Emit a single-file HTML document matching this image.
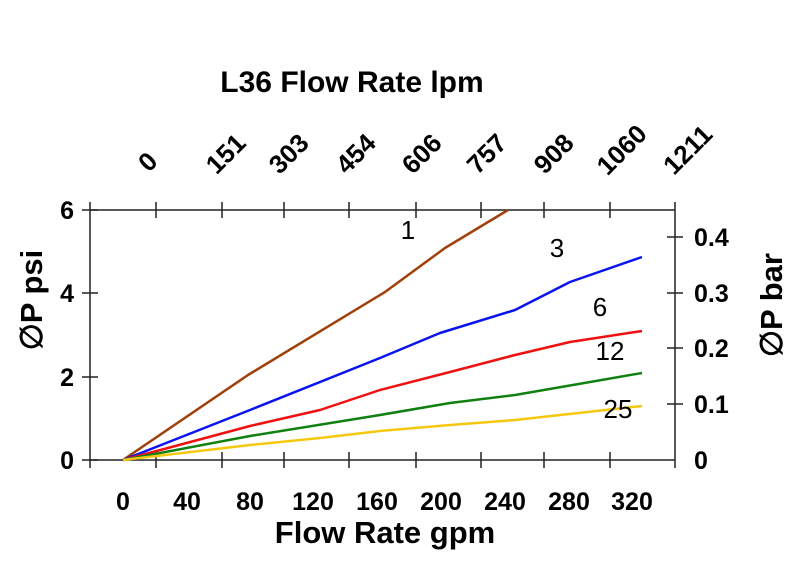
<!DOCTYPE html>
<html><head><meta charset="utf-8"><style>html,body{margin:0;padding:0;background:#fff}svg{display:block}</style></head>
<body>
<svg width="798" height="564" viewBox="0 0 798 564" xmlns="http://www.w3.org/2000/svg" font-family="Liberation Sans, sans-serif">
<rect width="798" height="564" fill="#fff"/>
<text x="352" y="92" font-size="30" font-weight="bold" text-anchor="middle">L36 Flow Rate lpm</text>
<g font-size="26" font-weight="bold" text-anchor="middle">
<text transform="translate(154,168) rotate(-45)">0</text>
<text transform="translate(232,160) rotate(-45)">151</text>
<text transform="translate(295,160) rotate(-45)">303</text>
<text transform="translate(362,160) rotate(-45)">454</text>
<text transform="translate(428,160) rotate(-45)">606</text>
<text transform="translate(493,160) rotate(-45)">757</text>
<text transform="translate(560,160) rotate(-45)">908</text>
<text transform="translate(628,156) rotate(-45)">1060</text>
<text transform="translate(694,156) rotate(-45)">1211</text>
</g>
<g stroke="#222" stroke-width="1.5" fill="none">
<line x1="90" y1="210" x2="675" y2="210"/>
<line x1="90" y1="460" x2="675" y2="460"/>
<line x1="90" y1="202" x2="90" y2="468"/>
<line x1="675" y1="202" x2="675" y2="468"/>
<path d="M156 202V218M222 202V218M284 202V218M349 202V218M416 202V218M481 202V218M544 202V218M610 202V218"/>
<path d="M156 452V468M222 452V468M284 452V468M349 452V468M416 452V468M481 452V468M544 452V468M610 452V468"/>
<path d="M82 293H98M82 377H98M82 460H98M82 210H98"/>
<path d="M667 237H683M667 293H683M667 348H683M667 404H683"/>
</g>
<g font-size="25" font-weight="bold" text-anchor="end">
<text x="74" y="219">6</text><text x="74" y="302">4</text><text x="74" y="386">2</text><text x="74" y="469">0</text>
</g>
<g font-size="25" font-weight="bold">
<text x="694" y="246">0.4</text><text x="694" y="302">0.3</text><text x="694" y="357">0.2</text><text x="694" y="413">0.1</text><text x="694" y="469">0</text>
</g>
<text transform="translate(42,300) rotate(-90)" font-size="31" font-weight="bold" text-anchor="middle">∅P psi</text>
<text transform="translate(782,305) rotate(-90)" font-size="31" font-weight="bold" text-anchor="middle">∅P bar</text>
<g font-size="25" font-weight="bold" text-anchor="middle">
<text x="123" y="510">0</text><text x="187" y="510">40</text><text x="250" y="510">80</text><text x="313" y="510">120</text><text x="377" y="510">160</text><text x="441" y="510">200</text><text x="505" y="510">240</text><text x="569" y="510">280</text><text x="632" y="510">320</text>
</g>
<text x="385" y="543" font-size="31" font-weight="bold" text-anchor="middle">Flow Rate gpm</text>
<g fill="none" stroke-width="2.5" stroke-linejoin="round">
<polyline stroke="#a0400a" points="123,460 248,375 385,292 445,248 508,210"/>
<polyline stroke="#0a14f0" points="123,460 250,410 380,358 440,333 515,310 570,282 642,257"/>
<polyline stroke="#f01010" points="123,460 250,426 320,410 380,390 450,372 515,355 570,342 642,331"/>
<polyline stroke="#108010" points="123,460 250,436 380,415 450,403 515,395 642,373"/>
<polyline stroke="#f5c810" points="123,460 250,445 320,438 380,431 450,425 515,420 642,406"/>
</g>
<g font-size="26" text-anchor="middle">
<text x="408" y="239">1</text><text x="557" y="257">3</text><text x="600" y="316">6</text><text x="610" y="360">12</text><text x="618" y="418">25</text>
</g>
</svg>
</body></html>
